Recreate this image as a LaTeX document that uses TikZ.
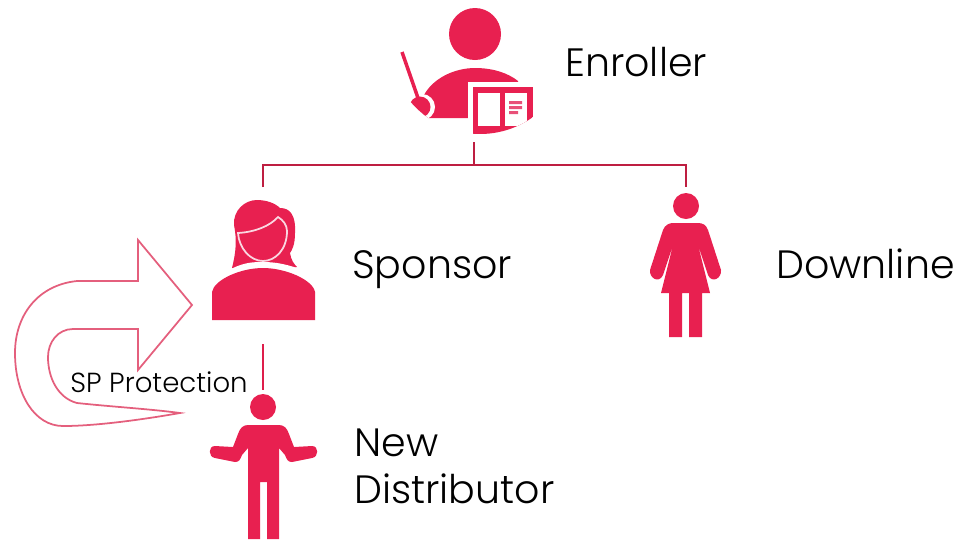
\documentclass[tikz,border=0pt]{standalone}
\usepackage{fontspec}
\setmainfont{Poppins}[UprightFont=* Light]
\usepackage{tikz}
\usetikzlibrary{calc}
\newcommand{\rgb}[3]{rgb,255:red,#1; green,#2; blue,#3}
\tikzset{
  icon/.style={fill=\rgb{232}{32}{80}, draw=none},
  gap/.style={fill=white, draw=none},
  link/.style={line width=1.25pt, color=\rgb{190}{30}{65}},
  bigtext/.style={anchor=base west, inner sep=0pt, font=\fontsize{22.5}{22.5}\selectfont, text=black},
  smalltext/.style={anchor=base west, inner sep=0pt, font=\fontsize{15.7}{15.7}\selectfont, text=black},
}
\begin{document}
\begin{tikzpicture}[x=0.02cm, y=-0.02cm]
    \useasboundingbox (0,0) rectangle (969,539);

    %la grosse fleche
    \draw [line width=1pt, color=\rgb{228}{95}{125}, line join=miter] (192,305) -- (138,240) -- (138,281) -- (77,281)
      .. controls (38,285) and (15,315) .. (15,353) .. controls (15,395) and (35,426) .. (63,426)
      .. controls (95,426) and (140,420) .. (180,413)
      .. controls (150,409) and (115,407) .. (77,403)
      .. controls (58,398) and (48,378) .. (48,357) .. controls (48,342) and (58,329) .. (73,329)
      -- (138,329) -- (138,370) -- cycle;

    %l'enroller
    \begin{scope}
      \clip (480,43) circle (91);
      \fill [icon] (475,34) circle (26);
      \fill [icon] (423,118) -- (423,97) .. controls (432,78) and (455,68) .. (475,68) .. controls (493,68) and (508,73) .. (518,81) -- (518,118) -- cycle;
      \fill [gap] (468,82) rectangle (540,140);
      \fill [gap] (422,107) circle (13);
      \fill [icon] (420,107) circle (10.5);
      \draw [line width=2pt, color=\rgb{232}{32}{80}] (402,52) -- (418,98);
      \fill [icon] (473,87) rectangle (533,134);
      \fill [gap] (478,93) rectangle (500,126);
      \fill [gap] (505,93) rectangle (527,126);
      \fill [fill=\rgb{232}{80}{120}] (509,101) rectangle (522,104) (509,106) rectangle (522,109) (509,111) rectangle (518,114);
    \end{scope}

    %la sponsor
    \fill [icon] (232,268) .. controls (236,252) and (237,240) .. (234,225) .. controls (233,210) and (245,200) .. (257,200)
      .. controls (266,200) and (275,203) .. (280,208) .. controls (290,208) and (296,215) .. (295,233)
      .. controls (295,245) and (292,250) .. (290,253) .. controls (291,260) and (294,264) .. (297,267)
      .. controls (290,269) and (283,269) .. (277,268) -- (250,266) .. controls (244,268) and (238,269) .. (232,268) -- cycle;
    \draw [icon, draw=\rgb{250}{215}{225}, line width=1pt] (238,233) .. controls (255,232) and (270,226) .. (278,217)
      .. controls (283,220) and (287,225) .. (287,231) .. controls (287,250) and (275,261) .. (263,261) .. controls (250,261) and (239,248) .. (238,233) -- cycle;
    \fill [gap] (232,268.5) .. controls (245,262) and (255,262) .. (263,262) .. controls (275,262) and (285,264) .. (297,268) -- (297,271) -- (232,271) -- cycle;
    \fill [icon] (212,320) -- (212,292) .. controls (214,280) and (240,268) .. (263,268) .. controls (286,268) and (313,280) .. (315,292) -- (315,320) -- cycle;

    %la downline
    \fill [icon] (686,206) circle (13);
    \fill [icon] (663,230) .. controls (665,225) and (669,223) .. (673,223) -- (698,223) .. controls (703,223) and (706,225) .. (708,230)
      -- (721,270) .. controls (722,278) and (712,284) .. (708,275) -- (698,245) -- (710,293) -- (702,293) -- (702,337) -- (689,337) -- (689,293)
      -- (682,293) -- (682,337) -- (669,337) -- (669,293) -- (661,293) -- (673,245) -- (663,275) .. controls (659,284) and (649,278) .. (650,270) -- cycle;

    %le nouveau distributeur
    \fill [icon] (263,407) circle (13);
    \fill [icon] (248,425) -- (279,425) .. controls (284,425) and (287,428) .. (289,434) -- (294,447) -- (312,446)
      .. controls (319,446) and (319,457) .. (312,458) -- (292,462) .. controls (288,462) and (287,460) .. (285,455) -- (279,448)
      -- (279,539) -- (267,539) -- (267,482) -- (260,482) -- (260,539) -- (248,539) -- (248,448) -- (242,455)
      .. controls (240,460) and (239,462) .. (235,462) -- (215,458) .. controls (208,457) and (208,446) .. (215,446) -- (233,447) -- (238,434)
      .. controls (240,428) and (243,425) .. (248,425) -- cycle;

    %les traits
    \coordinate (enrollerfoot) at (474,142);
    \coordinate (barmid) at (474,165);
    \coordinate (barleft) at (263,165);
    \coordinate (barright) at (686,165);
    \coordinate (sponsorhead) at (263,187);
    \coordinate (downlinehead) at (686,187);
    \coordinate (sponsorfoot) at (263,344);
    \coordinate (newhead) at (263,390);
    \draw [link] (enrollerfoot) -- (barmid);
    \draw [link] (sponsorhead) -- (barleft) -- (barright) -- (downlinehead);
    \draw [link, color=\rgb{222}{30}{75}] (sponsorfoot) -- (newhead);

    %les labels
    \node [bigtext] (enroller) at (565,76.5) {Enroller};
    \node [bigtext] (sponsor) at (352,278) {Sponsor};
    \node [bigtext] (downline) at (776,278) {Downline};
    \node [bigtext] (newlabel) at (354,456.5) {New};
    \node [bigtext] (distributor) at (354,503.5) {Distributor};
    \node [smalltext] (protection) at (70,392) {SP Protection};
\end{tikzpicture}
\end{document}
